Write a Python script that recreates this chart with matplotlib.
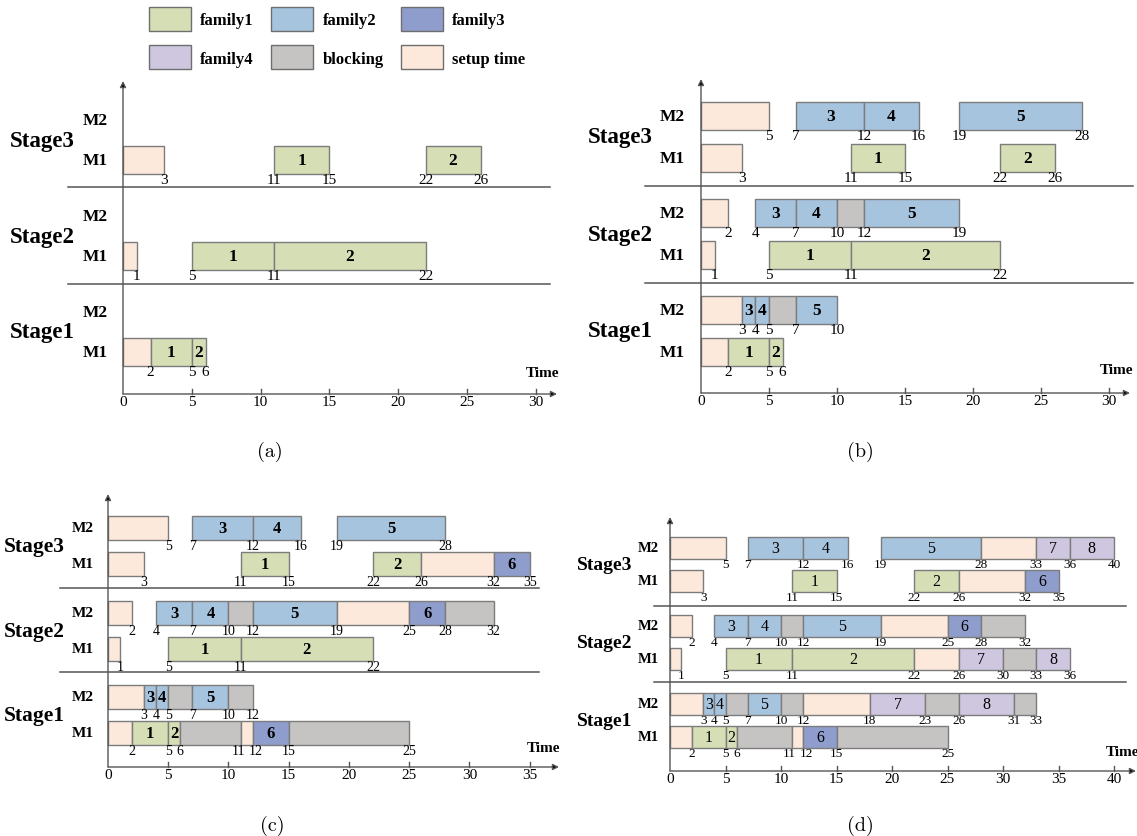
import matplotlib
matplotlib.use('Agg')
import matplotlib.pyplot as plt
from matplotlib.patches import Patch

plt.rcParams['font.family'] = ['Liberation Serif', 'DejaVu Serif']

W, H = 1137, 837

# couleurs des familles / blocage / temps de réglage
colors = {'f1': '#d5deb5', 'f2': '#a7c4df', 'f3': '#8f9dcd', 'f4': '#cfc7df',
          'blk': '#c6c3c3', 'setup': '#fce9dc'}
edge_col = '#7c7c7c'
axis_col = '#555555'

legend_kinds = ['f1', 'f2', 'f3', 'f4', 'blk', 'setup']
legend_names = ['family1', 'family2', 'family3', 'family4', 'blocking', 'setup time']

# tâches : (stage, machine, début, fin, type, job)
tasks_a = [
    (1, 1, 0, 2, 'setup', ''), (1, 1, 2, 5, 'f1', '1'), (1, 1, 5, 6, 'f1', '2'),
    (2, 1, 0, 1, 'setup', ''), (2, 1, 5, 11, 'f1', '1'), (2, 1, 11, 22, 'f1', '2'),
    (3, 1, 0, 3, 'setup', ''), (3, 1, 11, 15, 'f1', '1'), (3, 1, 22, 26, 'f1', '2'),
]

tasks_b = [
    (1, 1, 0, 2, 'setup', ''), (1, 1, 2, 5, 'f1', '1'), (1, 1, 5, 6, 'f1', '2'),
    (1, 2, 0, 3, 'setup', ''), (1, 2, 3, 4, 'f2', '3'), (1, 2, 4, 5, 'f2', '4'),
    (1, 2, 5, 7, 'blk', ''), (1, 2, 7, 10, 'f2', '5'),
    (2, 1, 0, 1, 'setup', ''), (2, 1, 5, 11, 'f1', '1'), (2, 1, 11, 22, 'f1', '2'),
    (2, 2, 0, 2, 'setup', ''), (2, 2, 4, 7, 'f2', '3'), (2, 2, 7, 10, 'f2', '4'),
    (2, 2, 10, 12, 'blk', ''), (2, 2, 12, 19, 'f2', '5'),
    (3, 1, 0, 3, 'setup', ''), (3, 1, 11, 15, 'f1', '1'), (3, 1, 22, 26, 'f1', '2'),
    (3, 2, 0, 5, 'setup', ''), (3, 2, 7, 12, 'f2', '3'), (3, 2, 12, 16, 'f2', '4'),
    (3, 2, 19, 28, 'f2', '5'),
]

tasks_c = [
    (1, 1, 0, 2, 'setup', ''), (1, 1, 2, 5, 'f1', '1'), (1, 1, 5, 6, 'f1', '2'),
    (1, 1, 6, 11, 'blk', ''), (1, 1, 11, 12, 'setup', ''), (1, 1, 12, 15, 'f3', '6'),
    (1, 1, 15, 25, 'blk', ''),
    (1, 2, 0, 3, 'setup', ''), (1, 2, 3, 4, 'f2', '3'), (1, 2, 4, 5, 'f2', '4'),
    (1, 2, 5, 7, 'blk', ''), (1, 2, 7, 10, 'f2', '5'), (1, 2, 10, 12, 'blk', ''),
    (2, 1, 0, 1, 'setup', ''), (2, 1, 5, 11, 'f1', '1'), (2, 1, 11, 22, 'f1', '2'),
    (2, 2, 0, 2, 'setup', ''), (2, 2, 4, 7, 'f2', '3'), (2, 2, 7, 10, 'f2', '4'),
    (2, 2, 10, 12, 'blk', ''), (2, 2, 12, 19, 'f2', '5'), (2, 2, 19, 25, 'setup', ''),
    (2, 2, 25, 28, 'f3', '6'), (2, 2, 28, 32, 'blk', ''),
    (3, 1, 0, 3, 'setup', ''), (3, 1, 11, 15, 'f1', '1'), (3, 1, 22, 26, 'f1', '2'),
    (3, 1, 26, 32, 'setup', ''), (3, 1, 32, 35, 'f3', '6'),
    (3, 2, 0, 5, 'setup', ''), (3, 2, 7, 12, 'f2', '3'), (3, 2, 12, 16, 'f2', '4'),
    (3, 2, 19, 28, 'f2', '5'),
]

tasks_d = [
    (1, 1, 0, 2, 'setup', ''), (1, 1, 2, 5, 'f1', '1'), (1, 1, 5, 6, 'f1', '2'),
    (1, 1, 6, 11, 'blk', ''), (1, 1, 11, 12, 'setup', ''), (1, 1, 12, 15, 'f3', '6'),
    (1, 1, 15, 25, 'blk', ''),
    (1, 2, 0, 3, 'setup', ''), (1, 2, 3, 4, 'f2', '3'), (1, 2, 4, 5, 'f2', '4'),
    (1, 2, 5, 7, 'blk', ''), (1, 2, 7, 10, 'f2', '5'), (1, 2, 10, 12, 'blk', ''),
    (1, 2, 12, 18, 'setup', ''), (1, 2, 18, 23, 'f4', '7'), (1, 2, 23, 26, 'blk', ''),
    (1, 2, 26, 31, 'f4', '8'), (1, 2, 31, 33, 'blk', ''),
    (2, 1, 0, 1, 'setup', ''), (2, 1, 5, 11, 'f1', '1'), (2, 1, 11, 22, 'f1', '2'),
    (2, 1, 22, 26, 'setup', ''), (2, 1, 26, 30, 'f4', '7'), (2, 1, 30, 33, 'blk', ''),
    (2, 1, 33, 36, 'f4', '8'),
    (2, 2, 0, 2, 'setup', ''), (2, 2, 4, 7, 'f2', '3'), (2, 2, 7, 10, 'f2', '4'),
    (2, 2, 10, 12, 'blk', ''), (2, 2, 12, 19, 'f2', '5'), (2, 2, 19, 25, 'setup', ''),
    (2, 2, 25, 28, 'f3', '6'), (2, 2, 28, 32, 'blk', ''),
    (3, 1, 0, 3, 'setup', ''), (3, 1, 11, 15, 'f1', '1'), (3, 1, 22, 26, 'f1', '2'),
    (3, 1, 26, 32, 'setup', ''), (3, 1, 32, 35, 'f3', '6'),
    (3, 2, 0, 5, 'setup', ''), (3, 2, 7, 12, 'f2', '3'), (3, 2, 12, 16, 'f2', '4'),
    (3, 2, 19, 28, 'f2', '5'), (3, 2, 28, 33, 'setup', ''), (3, 2, 33, 36, 'f4', '7'),
    (3, 2, 36, 40, 'f4', '8'),
]

ticks_a = [0, 5, 10, 15, 20, 25, 30]
ticks_b = [0, 5, 10, 15, 20, 25, 30]
ticks_c = [0, 5, 10, 15, 20, 25, 30, 35]
ticks_d = [0, 5, 10, 15, 20, 25, 30, 35, 40]

# mise en page de chaque panneau (en pixels de l'image)
lay_a = dict(box=(0, 75, 570, 425), x0=123, sx=13.75, y0=395, rows=[353, 257, 161], moff=40,
             bh=28, top=82, seps=[285, 188], sep_lr=(68, 550), arrow_r=557, stage_cx=42,
             m_cx=95, time_xy=(542, 374), fs_stage=16.5, fs_m=12.5, fs_num=12.5, bold_num=True,
             fs_edge=11, caption='(a)', cap_xy=(270, 452))
lay_b = dict(box=(570, 75, 1137, 425), x0=701, sx=13.6, y0=394, rows=[353, 256, 159], moff=42,
             bh=28, top=80, seps=[284, 187], sep_lr=(645, 1133), arrow_r=1130, stage_cx=620,
             m_cx=672, time_xy=(1117, 371), fs_stage=16.5, fs_m=12.5, fs_num=12.5, bold_num=True,
             fs_edge=11, caption='(b)', cap_xy=(860, 452))
lay_c = dict(box=(0, 485, 570, 800), x0=108, sx=12.05, y0=768, rows=[734, 650, 565], moff=36,
             bh=24, top=495, seps=[673, 589], sep_lr=(60, 539), arrow_r=559, stage_cx=34,
             m_cx=83, time_xy=(544, 749), fs_stage=15.5, fs_m=11, fs_num=12, bold_num=True,
             fs_edge=10, caption='(c)', cap_xy=(272, 826))
lay_d = dict(box=(570, 505, 1137, 800), x0=670, sx=11.1, y0=772, rows=[738, 660, 582], moff=33,
             bh=22, top=518, seps=[683, 607], sep_lr=(654, 1126), arrow_r=1136, stage_cx=605,
             m_cx=648, time_xy=(1122, 753), fs_stage=14, fs_m=10.5, fs_num=11.5, bold_num=False,
             fs_edge=9.5, caption='(d)', cap_xy=(860, 826))

fig = plt.figure(figsize=(W / 100, H / 100), dpi=100)


def draw_panel(tasks, ticks, lay):
    L, T, R, B = lay['box']
    ax = fig.add_axes([L / W, 1 - B / H, (R - L) / W, (B - T) / H])
    x0, sx, y0 = lay['x0'], lay['sx'], lay['y0']
    px2x = lambda px: (px - x0) / sx
    ax.set_xlim(px2x(L), px2x(R))
    ax.set_ylim(y0 - B, y0 - T)
    ax.axis('off')

    def row_y(stage, mach):
        return y0 - (lay['rows'][stage - 1] - (mach - 1) * lay['moff'])

    bh = lay['bh']
    # barres
    for st, m, s, e, k, job in tasks:
        y = row_y(st, m)
        ax.barh(y, e - s, left=s, height=bh, color=colors[k], edgecolor=edge_col, lw=1, zorder=2)
        if job:
            ax.text((s + e) / 2, y, job, ha='center', va='center', fontsize=lay['fs_num'],
                    fontweight='bold' if lay['bold_num'] else 'normal', zorder=3)

    # étiquettes des instants sous chaque ligne
    for st in (1, 2, 3):
        for m in (1, 2):
            edges = set()
            for t in tasks:
                if t[0] == st and t[1] == m:
                    edges.update([t[2], t[3]])
            edges.discard(0)
            edges = sorted(edges)
            y = row_y(st, m) - bh / 2 + 1
            for i, t in enumerate(edges):
                dx = 0
                # écarter un peu deux nombres à deux chiffres trop proches
                if t >= 10 and i + 1 < len(edges) and edges[i + 1] - t == 1:
                    dx = -2.5 / sx
                if t >= 10 and i > 0 and t - edges[i - 1] == 1 and edges[i - 1] >= 10:
                    dx = 3.5 / sx
                ax.text(t + dx, y, str(t), ha='center', va='top', fontsize=lay['fs_edge'], zorder=3)

    # noms des étages et machines
    for st in (1, 2, 3):
        y1, y2 = row_y(st, 1), row_y(st, 2)
        ax.text(px2x(lay['stage_cx']), (y1 + y2) / 2, 'Stage%d' % st, ha='center', va='center',
                fontsize=lay['fs_stage'], fontweight='bold')
        ax.text(px2x(lay['m_cx']), y1, 'M1', ha='center', va='center', fontsize=lay['fs_m'],
                fontweight='bold')
        ax.text(px2x(lay['m_cx']), y2, 'M2', ha='center', va='center', fontsize=lay['fs_m'],
                fontweight='bold')

    # séparateurs
    for sp in lay['seps']:
        ax.plot([px2x(lay['sep_lr'][0]), px2x(lay['sep_lr'][1])], [y0 - sp, y0 - sp],
                color=axis_col, lw=1.1, zorder=1)

    # axes avec flèches
    arrow = dict(arrowstyle='-|>', color=axis_col, lw=1, mutation_scale=9, shrinkA=0, shrinkB=0,
                 fc='black', ec=axis_col)
    ax.annotate('', xy=(px2x(lay['arrow_r']), 0), xytext=(0, 0), arrowprops=arrow)
    ax.annotate('', xy=(0, y0 - lay['top']), xytext=(0, 0), arrowprops=arrow)
    for t in ticks:
        if t > 0:
            ax.plot([t, t], [0, 5], color=axis_col, lw=1)
        ax.text(t, -1, str(t), ha='center', va='top', fontsize=11)
    tx, ty = lay['time_xy']
    ax.text(px2x(tx), y0 - ty, 'Time', ha='center', va='center', fontsize=11, fontweight='bold')

    cx, cy = lay['cap_xy']
    fig.text(cx / W, 1 - cy / H, lay['caption'], ha='center', va='center', fontsize=14.5,
             family='cmr10')


draw_panel(tasks_a, ticks_a, lay_a)
draw_panel(tasks_b, ticks_b, lay_b)
draw_panel(tasks_c, ticks_c, lay_c)
draw_panel(tasks_d, ticks_d, lay_d)

# légende (3 colonnes, remplie par colonne)
handles = [Patch(facecolor=colors[k], edgecolor='#6e6e6e', lw=1, label=n)
           for k, n in zip(legend_kinds, legend_names)]
order = [0, 3, 1, 4, 2, 5]
fig.legend(handles=[handles[i] for i in order], ncol=3, loc='upper left',
           bbox_to_anchor=(149 / W, 1 - 8 / H), frameon=False,
           prop=dict(family='Liberation Serif', weight='bold', size=12),
           handlelength=2.52, handleheight=1.85, handletextpad=0.55, columnspacing=1.05,
           labelspacing=0.85, borderpad=0, borderaxespad=0)

fig.savefig('out.png', dpi=100)
